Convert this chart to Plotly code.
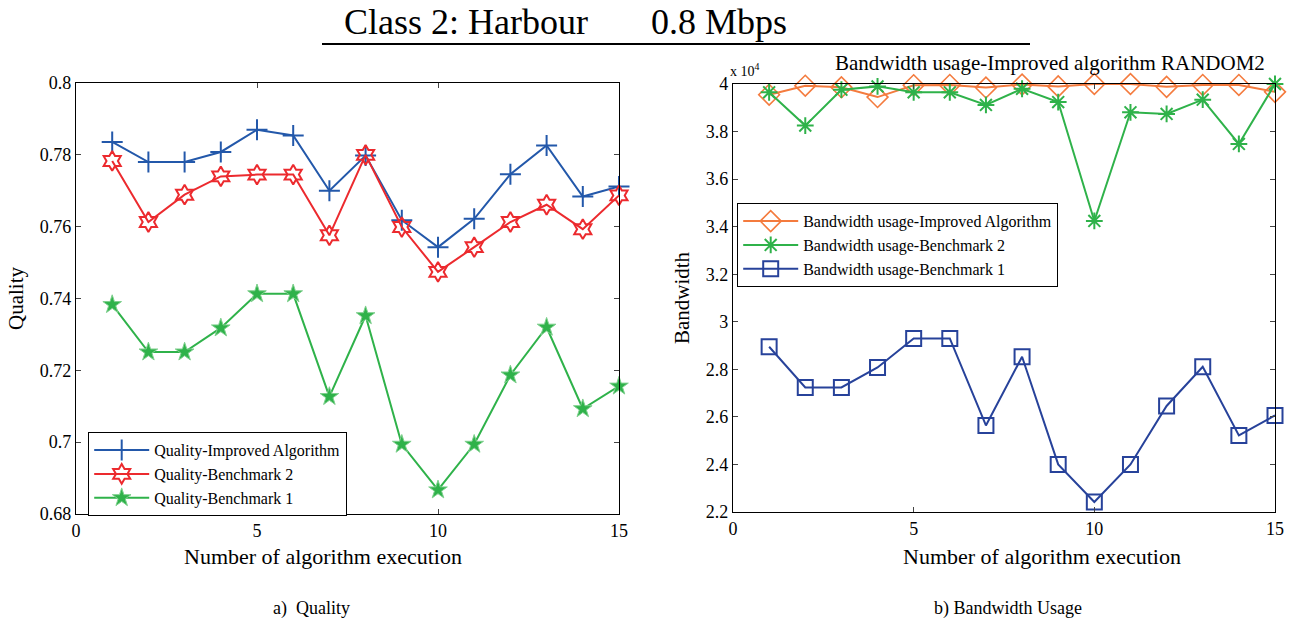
import plotly.graph_objects as go

runs = list(range(1, 16))

quality_improved = [0.7836, 0.7780, 0.7780, 0.7808, 0.7870, 0.7854, 0.7700, 0.7798,
                    0.7618, 0.7543, 0.7622, 0.7746, 0.7826, 0.7684, 0.7712]
quality_bench2 = [0.7783, 0.7613, 0.7689, 0.7740, 0.7745, 0.7745, 0.7576, 0.7800,
                  0.7599, 0.7474, 0.7543, 0.7613, 0.7661, 0.7593, 0.7687]
quality_bench1 = [0.7383, 0.7251, 0.7251, 0.7318, 0.7413, 0.7413, 0.7127, 0.7352,
                  0.6994, 0.6867, 0.6994, 0.7187, 0.7320, 0.7093, 0.7156]

# bandwidth in units of 10^4
bw_improved = [3.955, 3.993, 3.986, 3.945, 3.995, 3.996, 3.985, 3.998,
               3.990, 4.000, 4.000, 3.988, 3.996, 3.996, 3.967]
bw_bench2 = [3.965, 3.825, 3.976, 3.990, 3.965, 3.965, 3.912, 3.980,
             3.924, 3.424, 3.881, 3.874, 3.934, 3.748, 4.000]
bw_bench1 = [2.895, 2.724, 2.724, 2.808, 2.930, 2.930, 2.564, 2.853,
             2.400, 2.242, 2.400, 2.646, 2.811, 2.522, 2.606]

FONT = "Liberation Serif, Times New Roman, serif"
W, H = 1293, 625

def px(x):
    return x / W

def py(y):
    return 1 - y / H

fig = go.Figure()

fig.add_trace(go.Scatter(x=runs, y=quality_improved, mode="lines+markers",
                         name="Quality-Improved Algorithm", cliponaxis=False,
                         line=dict(color="#2358aa", width=2),
                         marker=dict(symbol="cross-thin", size=15,
                                     line=dict(color="#2358aa", width=2)),
                         xaxis="x", yaxis="y", legend="legend"))
fig.add_trace(go.Scatter(x=runs, y=quality_bench2, mode="lines+markers",
                         name="Quality-Benchmark 2", cliponaxis=False,
                         line=dict(color="#ec2a2e", width=2),
                         marker=dict(symbol="hexagram-open", size=15,
                                     line=dict(color="#ec2a2e", width=2)),
                         xaxis="x", yaxis="y", legend="legend"))
fig.add_trace(go.Scatter(x=runs, y=quality_bench1, mode="lines+markers",
                         name="Quality-Benchmark 1", cliponaxis=False,
                         line=dict(color="#2fb24a", width=2),
                         marker=dict(symbol="star", size=14, color="#2fb24a",
                                     line=dict(color="#7fd08e", width=1)),
                         xaxis="x", yaxis="y", legend="legend"))

fig.add_trace(go.Scatter(x=runs, y=bw_improved, mode="lines+markers",
                         name="Bandwidth usage-Improved Algorithm", cliponaxis=False,
                         line=dict(color="#f47b3e", width=2),
                         marker=dict(symbol="diamond-open", size=16,
                                     line=dict(color="#f47b3e", width=1.6)),
                         xaxis="x2", yaxis="y2", legend="legend2"))
fig.add_trace(go.Scatter(x=runs, y=bw_bench2, mode="lines+markers",
                         name="Bandwidth usage-Benchmark 2", cliponaxis=False,
                         line=dict(color="#2fb24a", width=2),
                         marker=dict(symbol="asterisk-open", size=14,
                                     line=dict(color="#2fb24a", width=2)),
                         xaxis="x2", yaxis="y2", legend="legend2"))
fig.add_trace(go.Scatter(x=runs, y=bw_bench1, mode="lines+markers",
                         name="Bandwidth usage-Benchmark 1", cliponaxis=False,
                         line=dict(color="#27429a", width=2),
                         marker=dict(symbol="square-open", size=15,
                                     line=dict(color="#27429a", width=2)),
                         xaxis="x2", yaxis="y2", legend="legend2"))

axis_common = dict(showline=True, linecolor="black", linewidth=1.2, mirror="ticks",
                   ticks="inside", ticklen=5, tickcolor="#444", showgrid=False,
                   zeroline=False, automargin=False,
                   tickfont=dict(family=FONT, size=18, color="black"))

fig.update_layout(
    width=W, height=H,
    margin=dict(l=0, r=0, t=0, b=0, pad=0, autoexpand=False),
    paper_bgcolor="white", plot_bgcolor="white",
    font=dict(family=FONT, color="black"),
    xaxis=dict(domain=[px(76), px(619)], range=[0, 15], dtick=5, anchor="y",
               **axis_common),
    yaxis=dict(domain=[py(514), py(83)], range=[0.68, 0.8], dtick=0.02, anchor="x",
               title=dict(text="Quality", font=dict(family=FONT, size=21), standoff=10),
               **axis_common),
    xaxis2=dict(domain=[px(733), px(1275)], range=[0, 15], dtick=5, anchor="y2",
                **axis_common),
    yaxis2=dict(domain=[py(512), py(84)], range=[2.2, 4.0], dtick=0.2, anchor="x2",
                title=dict(text="Bandwidth", font=dict(family=FONT, size=21), standoff=10),
                **axis_common),
    legend=dict(x=px(88), y=py(432), xanchor="left", yanchor="top",
                bgcolor="white", bordercolor="black", borderwidth=1.2,
                font=dict(family=FONT, size=16), tracegroupgap=0,
                itemwidth=55),
    legend2=dict(x=px(737), y=py(203), xanchor="left", yanchor="top",
                 bgcolor="white", bordercolor="black", borderwidth=1.2,
                 font=dict(family=FONT, size=16), tracegroupgap=0,
                 itemwidth=55),
    showlegend=True,
)

def note(text, x, y, size, xanchor="center"):
    fig.add_annotation(text=text, x=px(x), y=py(y), xref="paper", yref="paper",
                       xanchor=xanchor, yanchor="middle", showarrow=False,
                       font=dict(family=FONT, size=size, color="black"))

note("Class 2: Harbour&nbsp;&nbsp;&nbsp;&nbsp;&nbsp;&nbsp;&nbsp;0.8 Mbps", 565, 22, 36)
fig.add_shape(type="line", xref="paper", yref="paper",
              x0=px(322), x1=px(1030), y0=py(44), y1=py(44),
              line=dict(color="black", width=2))
note("Bandwidth usage-Improved algorithm RANDOM2", 1050, 63, 21)
note("x 10<sup>4</sup>", 728, 70, 14, xanchor="left")
note("Number of algorithm execution", 323, 556, 22)
note("Number of algorithm execution", 1042, 556, 22)
note("a)  Quality", 311, 608, 18)
note("b) Bandwidth Usage", 1008, 608, 18)

fig.write_html("out.html")
